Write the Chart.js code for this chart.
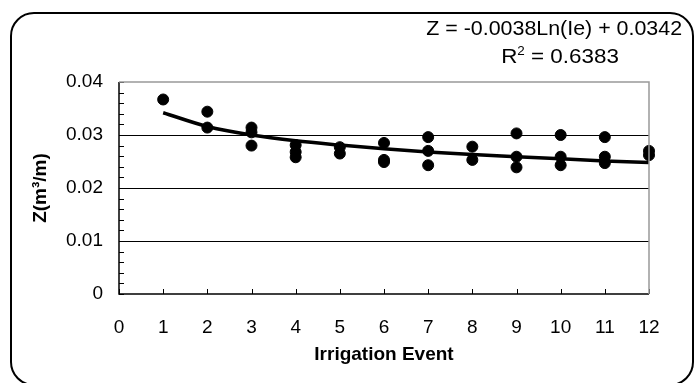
<!DOCTYPE html>
<html>
<head>
<meta charset="utf-8">
<script src="https://cdn.jsdelivr.net/npm/chart.js@4"></script>
<style>
  html, body { margin: 0; padding: 0; background: #fff; }
  body { width: 695px; height: 383px; position: relative; overflow: hidden; font-family: "Liberation Sans", Arial, sans-serif; }
  #frame { position: absolute; left: 10px; top: 12px; width: 680px; height: 370px; border: 2px solid #000; border-radius: 24px; }
  #wrap { position: absolute; left: 0; top: 0; width: 695px; height: 383px; }
  .eq { position: absolute; font-size: 20px; color: #000; white-space: nowrap; }
  #eq1 { right: 13px; top: 17px; transform: scaleX(1.07); transform-origin: right center; }
  #eq2 { left: 560px; top: 44px; transform: translateX(-50%) scaleX(1.12); }
  #eq2 sup { font-size: 12px; vertical-align: 8px; }
</style>
</head>
<body>
<div id="frame"></div>
<div id="wrap"><canvas id="chart" width="695" height="383"></canvas></div>
<div class="eq" id="eq1">Z = -0.0038Ln(Ie) + 0.0342</div>
<div class="eq" id="eq2">R<sup>2</sup> = 0.6383</div>
<script>
// measured points, one entry per observation
const eventX = [1, 2, 2, 3, 3, 3, 4, 4, 4, 5, 5, 6, 6, 6, 7, 7, 7, 8, 8, 9, 9, 9, 10, 10, 10, 11, 11, 11, 12, 12];
const zValues = [0.0367, 0.0344, 0.0314, 0.0314, 0.0305, 0.0280, 0.0281, 0.0268, 0.0258, 0.0277, 0.0265,
  0.0285, 0.0253, 0.0249, 0.0296, 0.0270, 0.0243, 0.0278, 0.0253, 0.0303, 0.0259, 0.0239,
  0.0300, 0.0259, 0.0243, 0.0296, 0.0259, 0.0247, 0.0270, 0.0262];

// trendline as drawn (log fit)
const trendX = [1, 2, 3, 4, 5, 6, 7, 8, 9, 10, 11, 12];
const trendZ = [0.0342, 0.0316, 0.0300, 0.0289, 0.0281, 0.0274, 0.0268, 0.0263, 0.0259, 0.0255, 0.0251, 0.0248];

const xTicks = [0, 1, 2, 3, 4, 5, 6, 7, 8, 9, 10, 11, 12];
const yTicks = [0, 0.01, 0.02, 0.03, 0.04];
const yMinorStep = 0.002;

const FONT = "'Liberation Sans', Arial, sans-serif";

// inside tick marks, like the excel original
const innerTicks = {
  id: "innerTicks",
  afterDraw(chart) {
    const { ctx, chartArea: a, scales: { x, y } } = chart;
    ctx.save();
    ctx.strokeStyle = "#000";
    ctx.lineWidth = 1;
    ctx.beginPath();
    for (let i = 0; i <= 20; i++) {
      const py = Math.round(y.getPixelForValue(i * yMinorStep)) + 0.5;
      ctx.moveTo(a.left, py); ctx.lineTo(a.left + 5, py);
    }
    xTicks.forEach(v => {
      const px = Math.round(x.getPixelForValue(v)) + 0.5;
      ctx.moveTo(px, a.bottom); ctx.lineTo(px, a.bottom - 5);
    });
    ctx.stroke();
    // axes
    ctx.lineWidth = 1.5;
    ctx.beginPath();
    ctx.moveTo(a.left, a.top); ctx.lineTo(a.left, a.bottom); ctx.lineTo(a.right, a.bottom);
    ctx.stroke();
    ctx.strokeStyle = "#999";
    ctx.beginPath();
    ctx.moveTo(a.left, a.top); ctx.lineTo(a.right, a.top); ctx.lineTo(a.right, a.bottom);
    ctx.stroke();
    ctx.restore();
  }
};

new Chart(document.getElementById("chart"), {
  type: "scatter",
  data: {
    datasets: [
      {
        label: "Z",
        data: eventX.map((v, i) => ({ x: v, y: zValues[i] })),
        backgroundColor: "#000",
        borderColor: "#000",
        pointRadius: 5.5,
        pointHoverRadius: 5.5,
        clip: false,
        order: 2,
      },
      {
        label: "Log trend",
        type: "line",
        data: trendX.map((v, i) => ({ x: v, y: trendZ[i] })),
        borderColor: "#000",
        borderWidth: 3.5,
        pointRadius: 0,
        cubicInterpolationMode: "monotone",
        fill: false,
        clip: false,
        order: 1,
      },
    ],
  },
  options: {
    responsive: false,
    animation: false,
    layout: { padding: { left: 0, top: 82, right: 46, bottom: 0 } },
    plugins: { legend: { display: false }, tooltip: { enabled: false } },
    scales: {
      x: {
        type: "linear",
        min: 0, max: 12,
        afterBuildTicks: s => { s.ticks = xTicks.map(v => ({ value: v })); },
        afterFit: s => { s.height = 89; },
        grid: { display: false, drawTicks: false },
        border: { display: false },
        ticks: { color: "#000", padding: 22, font: { family: FONT, size: 19 }, maxRotation: 0 },
        title: { display: true, text: "Irrigation Event", color: "#000", padding: 17, font: { family: FONT, size: 19, weight: "bold" } },
      },
      y: {
        min: 0, max: 0.04,
        afterBuildTicks: s => { s.ticks = yTicks.map(v => ({ value: v })); },
        afterFit: s => { s.width = 119; },
        grid: {
          drawTicks: false,
          color: c => (c.tick.value > 0 && c.tick.value < 0.04 ? "#000" : "rgba(0,0,0,0)"),
          lineWidth: 1,
        },
        border: { display: false },
        ticks: {
          color: "#000", padding: 16, font: { family: FONT, size: 19 },
          callback: v => (v === 0 ? "0" : v.toFixed(2)),
        },
        title: { display: true, text: "Z(m³/m)", color: "#000", padding: 29, font: { family: FONT, size: 19, weight: "bold" } },
      },
    },
  },
  plugins: [innerTicks],
});
</script>
</body>
</html>
